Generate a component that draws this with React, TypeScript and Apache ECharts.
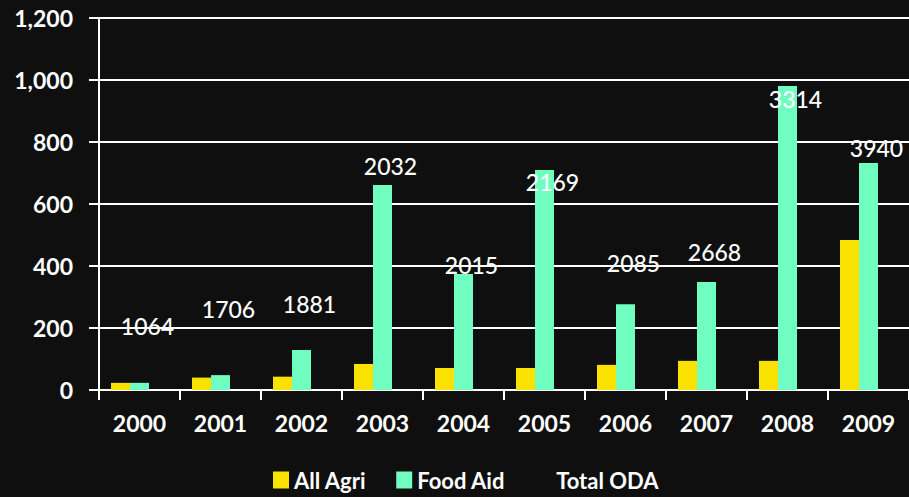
import React, { useEffect, useRef } from "react";
import * as echarts from "echarts";

const years = ["2000", "2001", "2002", "2003", "2004", "2005", "2006", "2007", "2008", "2009"];
const allAgri = [23, 40, 43, 84, 71, 71, 81, 94, 94, 484];
const foodAid = [23, 48, 129, 661, 374, 710, 277, 348, 981, 732];
const totalOda = [1064, 1706, 1881, 2032, 2015, 2169, 2085, 2668, 3314, 3940];
// vertical level (primary axis units) at which each Total ODA label sits
const odaLabelLevel = [206, 260, 277, 721, 402, 668, 408, 442, 937, 779];
const yTicks = [0, 200, 400, 600, 800, 1000, 1200];

const FONT = "Lato";

export default function App() {
  const ref = useRef<HTMLDivElement>(null);
  useEffect(() => {
    if (!ref.current) return;
    const chart = echarts.init(ref.current, undefined, { renderer: "svg" });
    chart.setOption({
      animation: false,
      backgroundColor: "#0f0f0f",
      textStyle: { fontFamily: FONT },
      grid: { left: 99, top: 18, bottom: 107, width: 813, containLabel: false },
      legend: {
        bottom: 6,
        left: 273,
        padding: 0,
        itemWidth: 16,
        itemHeight: 17,
        itemGap: 30,
        textStyle: { color: "#ffffff", fontFamily: FONT, fontWeight: "bold", fontSize: 22 },
        data: [
          { name: "All Agri", icon: "rect" },
          { name: "Food Aid", icon: "rect" },
          { name: "Total ODA", icon: "rect", itemStyle: { color: "rgba(0,0,0,0)" } },
        ],
      },
      xAxis: {
        type: "category",
        data: years,
        axisLine: { show: true, lineStyle: { color: "#ffffff", width: 2 } },
        axisTick: { show: true, length: 10, alignWithLabel: false, lineStyle: { color: "#ffffff", width: 2 } },
        axisLabel: { color: "#ffffff", fontFamily: FONT, fontSize: 23, fontWeight: "bold", margin: 21 },
        splitLine: { show: false },
      },
      yAxis: {
        type: "value",
        min: yTicks[0],
        max: yTicks[yTicks.length - 1],
        interval: yTicks[1] - yTicks[0],
        axisLine: { show: true, lineStyle: { color: "#ffffff", width: 2 } },
        axisTick: { show: true, length: 10, lineStyle: { color: "#ffffff", width: 2 } },
        axisLabel: {
          color: "#ffffff",
          fontFamily: FONT,
          fontSize: 23,
          fontWeight: "bold",
          margin: 26,
          formatter: (v: number) => v.toLocaleString("en-US"),
        },
        splitLine: { show: true, lineStyle: { color: "#ffffff", width: 2 } },
      },
      series: [
        {
          name: "All Agri",
          type: "bar",
          data: allAgri,
          barWidth: 19,
          barGap: "0%",
          itemStyle: { color: "#f9e100" },
        },
        {
          name: "Food Aid",
          type: "bar",
          data: foodAid,
          barWidth: 19,
          barGap: "0%",
          itemStyle: { color: "#70fdc0" },
        },
        {
          name: "Total ODA",
          type: "bar",
          data: odaLabelLevel,
          barWidth: 19,
          barGap: "0%",
          itemStyle: { color: "rgba(0,0,0,0)" },
          z: 5,
          label: {
            show: true,
            position: "insideTop",
            distance: 0,
            offset: [-11, -12],
            color: "#ffffff",
            fontFamily: FONT,
            fontSize: 23,
            fontWeight: 500,
            formatter: (p: any) => String(totalOda[p.dataIndex]),
          },
        },
      ],
    });
    return () => chart.dispose();
  }, []);
  return <div ref={ref} style={{ width: 909, height: 497, position: "absolute", left: 0, top: 0 }} />;
}
